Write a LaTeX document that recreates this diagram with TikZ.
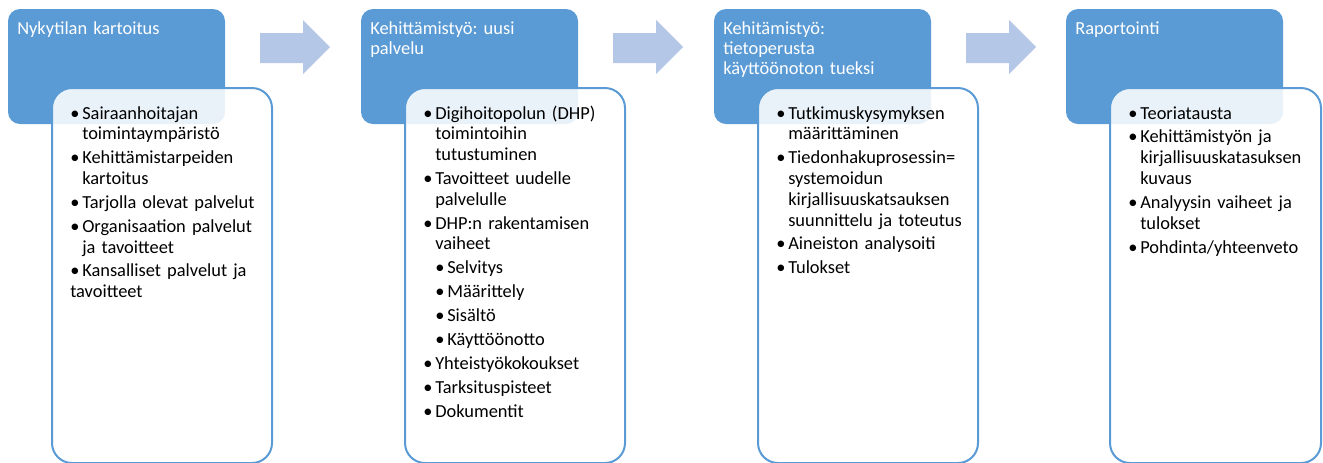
\documentclass[tikz,border=0pt]{standalone}
\usepackage{fontspec}
\setmainfont{Carlito}
\usetikzlibrary{positioning}
\definecolor{accent}{RGB}{91,155,213}
\definecolor{arrowfill}{RGB}{180,199,231}
\frenchspacing

\newcommand{\headfont}{\fontsize{13.8pt}{15pt}\selectfont}
\newcommand{\listfont}{\fontsize{13.8pt}{15.6pt}\selectfont}
% bullet items, one level and two levels
\newcommand{\firstitm}[1]{\setlength{\parskip}{2.3pt}\hangindent=9pt\hangafter=1\noindent\makebox[9pt][l]{\textbullet}#1}
\newcommand{\itm}[1]{\par\firstitm{#1}}
\newcommand{\subitm}[1]{\par\setlength{\parskip}{2.3pt}\hangindent=18pt\hangafter=1\noindent\hspace*{9pt}\makebox[9pt][l]{\textbullet}#1}

\begin{document}
\begin{tikzpicture}[x=0.75pt,y=-0.75pt,
    headbox/.style={draw=none,fill=accent,rounded corners=9pt},
    listbox/.style={draw=accent,line width=1.5pt,fill=white,fill opacity=0.87,rounded corners=15pt},
    steparrow/.style={fill=arrowfill,draw=none},
    headtext/.style={anchor=base west,text=white,text width=155pt,align=left,inner sep=0pt,font=\headfont},
    listtext/.style={anchor=base west,text width=155pt,align=left,inner sep=0pt,font=\listfont}]
        \useasboundingbox (0,0) rectangle (1323,462);
        \begin{scope}[shift={(8,9)}]
            \draw[headbox] (0,0) rectangle (217,115);
            \node[headtext] (head1) at (9,25) {Nykytilan kartoitus};
            \draw[listbox] (44,79) rectangle (264,454);
            \node[listtext] (list1) at (62,110) {\firstitm{Sairaanhoitajan\newline toimintaympäristö}
                \itm{Kehittämistarpeiden\newline kartoitus}
                \itm{Tarjolla olevat palvelut}
                \itm{Organisaation palvelut\newline ja tavoitteet}
                \itm{Kansalliset palvelut ja\newline tavoitteet}};
            \fill[steparrow] (252,24) -- (295,24) -- (295,11) -- (322,38) -- (295,65) -- (295,54) -- (252,54) -- cycle;
        \end{scope}
        \begin{scope}[shift={(361,9)}]
            \draw[headbox] (0,0) rectangle (217,115);
            \node[headtext] (head2) at (9,25) {Kehittämistyö: uusi\\ palvelu};
            \draw[listbox] (44,79) rectangle (264,454);
            \node[listtext] (list2) at (62,110) {\firstitm{Digihoitopolun (DHP)\newline toimintoihin\newline tutustuminen}
                \itm{Tavoitteet uudelle\newline palvelulle}
                \itm{DHP:n rakentamisen\newline vaiheet}
                \subitm{Selvitys}
                \subitm{Määrittely}
                \subitm{Sisältö}
                \subitm{Käyttöönotto}
                \itm{Yhteistyökokoukset}
                \itm{Tarksituspisteet}
                \itm{Dokumentit}};
            \fill[steparrow] (252,24) -- (295,24) -- (295,11) -- (322,38) -- (295,65) -- (295,54) -- (252,54) -- cycle;
        \end{scope}
        \begin{scope}[shift={(714,9)}]
            \draw[headbox] (0,0) rectangle (217,115);
            \node[headtext] (head3) at (9,25) {Kehitämistyö:\\ tietoperusta\\ käyttöönoton tueksi};
            \draw[listbox] (44,79) rectangle (264,454);
            \node[listtext] (list3) at (62,110) {\firstitm{Tutkimuskysymyksen\newline määrittäminen}
                \itm{Tiedonhakuprosessin=\newline systemoidun\newline kirjallisuuskatsauksen\newline suunnittelu ja toteutus}
                \itm{Aineiston analysoiti}
                \itm{Tulokset}};
            \fill[steparrow] (252,24) -- (295,24) -- (295,11) -- (322,38) -- (295,65) -- (295,54) -- (252,54) -- cycle;
        \end{scope}
        \begin{scope}[shift={(1066,9)}]
            \draw[headbox] (0,0) rectangle (217,115);
            \node[headtext] (head4) at (9,25) {Raportointi};
            \draw[listbox] (44,79) rectangle (255,454);
            \node[listtext] (list4) at (62,110) {\firstitm{Teoriatausta}
                \itm{Kehittämistyön ja\newline kirjallisuuskatasuksen\newline kuvaus}
                \itm{Analyysin vaiheet ja\newline tulokset}
                \itm{Pohdinta/yhteenveto}};
        \end{scope}
    \end{tikzpicture}
\end{document}
